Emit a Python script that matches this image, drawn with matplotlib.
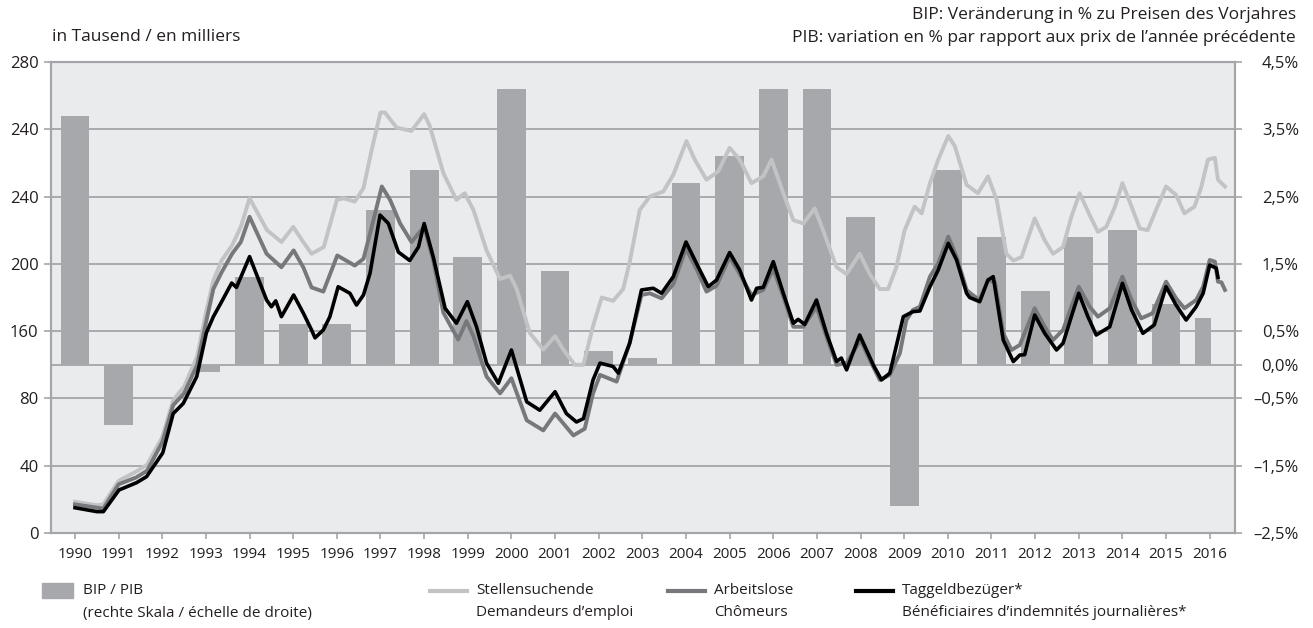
import matplotlib
matplotlib.use("Agg")
import matplotlib.pyplot as plt
from matplotlib.lines import Line2D
from matplotlib.patches import Rectangle

plt.rcParams['font.family'] = ['Open Sans', 'DejaVu Sans']

# BIP / PIB, Veränderung in % (rechte Skala)
bip_years = list(range(1990, 2017))
bip_vals = [3.7, -0.9, 0.0, -0.1, 1.3, 0.6, 0.6, 2.3, 2.9, 1.6, 4.1, 1.4, 0.2, 0.1,
            2.7, 3.1, 4.1, 4.1, 2.2, -2.1, 2.9, 1.9, 1.1, 1.9, 2.0, 0.9, 0.7]

# Stellensuchende / Demandeurs d'emploi (in Tausend)
s_years = [1990.00, 1990.50, 1990.65, 1991.00, 1991.40, 1991.65, 1992.00, 1992.25, 1992.50, 1992.80,
           1993.00, 1993.17, 1993.36, 1993.60, 1993.80, 1994.00, 1994.40, 1994.73, 1995.00, 1995.23,
           1995.42, 1995.70, 1996.00, 1996.15, 1996.41, 1996.61, 1996.80, 1997.00, 1997.10, 1997.37,
           1997.71, 1998.00, 1998.13, 1998.44, 1998.74, 1998.93, 1999.13, 1999.43, 1999.74, 1999.97,
           2000.12, 2000.42, 2000.73, 2001.00, 2001.19, 2001.45, 2001.65, 2001.87, 2002.07, 2002.33,
           2002.56, 2002.71, 2002.94, 2003.17, 2003.48, 2003.71, 2004.01, 2004.20, 2004.47, 2004.74,
           2005.00, 2005.23, 2005.50, 2005.77, 2005.96, 2006.23, 2006.46, 2006.69, 2006.95, 2007.14,
           2007.45, 2007.68, 2007.98, 2008.21, 2008.44, 2008.63, 2008.82, 2009.01, 2009.24, 2009.40,
           2009.59, 2009.78, 2010.01, 2010.16, 2010.43, 2010.69, 2010.92, 2011.12, 2011.34, 2011.50,
           2011.69, 2011.99, 2012.22, 2012.41, 2012.64, 2012.83, 2013.02, 2013.25, 2013.44, 2013.63,
           2013.83, 2014.00, 2014.21, 2014.40, 2014.58, 2014.77, 2015.00, 2015.23, 2015.42, 2015.65,
           2015.80, 2015.96, 2016.12, 2016.19, 2016.35]
s_vals = [18.6, 16.5, 17.0, 31.0, 36.5, 40.5, 57.0, 79.0, 87.0, 105.0,
          131.0, 150.0, 162.0, 171.0, 182.0, 199.0, 180.0, 173.0, 182.0, 173.0,
          166.0, 170.0, 198.0, 199.0, 197.0, 205.0, 228.0, 250.0, 250.0, 241.0,
          239.0, 249.0, 242.0, 214.0, 198.0, 202.0, 192.0, 168.0, 151.0, 153.0,
          145.0, 119.0, 109.0, 117.0, 109.0, 100.0, 100.0, 123.0, 140.0, 138.0,
          145.0, 161.0, 192.0, 200.0, 203.0, 213.0, 233.0, 222.0, 210.0, 215.0,
          229.0, 222.0, 208.0, 212.0, 222.0, 202.0, 186.0, 184.0, 193.0, 180.0,
          158.0, 154.0, 166.0, 154.0, 145.0, 145.0, 158.0, 180.0, 194.0, 190.0,
          208.0, 222.0, 236.0, 230.0, 207.0, 202.0, 212.0, 198.0, 166.0, 162.0,
          164.0, 187.0, 174.0, 166.0, 170.0, 188.0, 202.0, 189.0, 179.0, 182.0,
          194.0, 208.0, 194.0, 181.0, 180.0, 192.0, 206.0, 201.0, 190.0, 194.0,
          205.0, 222.0, 223.0, 210.0, 206.0]

# Arbeitslose / Chômeurs
a_years = [1990.00, 1990.65, 1991.00, 1991.40, 1991.65, 1992.00, 1992.25, 1992.50, 1992.80, 1993.00,
           1993.17, 1993.36, 1993.60, 1993.80, 1994.00, 1994.39, 1994.73, 1995.01, 1995.23, 1995.42,
           1995.69, 1996.01, 1996.41, 1996.61, 1996.80, 1997.03, 1997.22, 1997.45, 1997.71, 1998.00,
           1998.21, 1998.44, 1998.78, 1998.97, 1999.13, 1999.43, 1999.74, 2000.00, 2000.35, 2000.73,
           2001.00, 2001.42, 2001.68, 2001.87, 2002.03, 2002.41, 2002.71, 2002.98, 2003.17, 2003.44,
           2003.71, 2004.00, 2004.24, 2004.47, 2004.70, 2005.00, 2005.23, 2005.50, 2005.77, 2006.00,
           2006.23, 2006.46, 2006.69, 2006.99, 2007.22, 2007.45, 2007.68, 2008.00, 2008.21, 2008.44,
           2008.67, 2008.90, 2009.05, 2009.20, 2009.36, 2009.59, 2009.78, 2010.01, 2010.20, 2010.43,
           2010.54, 2010.73, 2010.92, 2011.08, 2011.27, 2011.46, 2011.65, 2011.99, 2012.22, 2012.41,
           2012.64, 2012.83, 2013.00, 2013.25, 2013.44, 2013.71, 2014.00, 2014.21, 2014.43, 2014.69,
           2015.00, 2015.23, 2015.42, 2015.69, 2015.85, 2016.00, 2016.12, 2016.19, 2016.27, 2016.35]
a_vals = [17.0, 14.5, 29.0, 33.0, 37.0, 54.0, 76.0, 83.0, 100.0, 125.0,
          145.0, 155.0, 166.0, 173.0, 188.0, 166.0, 158.0, 168.0, 158.0, 146.0,
          143.5, 165.0, 159.0, 163.0, 182.0, 206.0, 198.0, 184.0, 173.0, 182.0,
          162.0, 131.0, 115.0, 126.0, 117.0, 93.0, 83.0, 92.0, 67.0, 61.0,
          71.0, 58.0, 62.0, 83.0, 94.0, 90.0, 113.0, 141.5, 142.5, 139.5,
          148.0, 169.0, 157.0, 143.5, 147.0, 164.0, 154.0, 141.5, 144.5, 157.0,
          140.5, 122.6, 122.6, 134.5, 116.7, 100.0, 101.0, 114.7, 103.0, 91.0,
          94.0, 106.8, 126.6, 132.6, 134.5, 152.4, 160.3, 176.2, 164.3, 144.5,
          142.0, 138.5, 150.4, 149.0, 118.7, 108.8, 111.8, 133.6, 122.6, 114.7,
          120.7, 134.5, 146.4, 134.5, 128.6, 133.6, 152.4, 138.5, 127.6, 130.6,
          149.4, 139.5, 133.6, 138.5, 146.4, 162.3, 161.3, 149.4, 149.0, 144.5]

# Taggeldbezüger / Bénéficiaires d'indemnités journalières
t_years = [1990.00, 1990.50, 1990.65, 1991.01, 1991.41, 1991.64, 1992.01, 1992.25, 1992.48, 1992.79,
           1993.01, 1993.17, 1993.36, 1993.59, 1993.70, 1994.00, 1994.39, 1994.50, 1994.60, 1994.73,
           1995.01, 1995.23, 1995.42, 1995.50, 1995.69, 1995.84, 1996.03, 1996.30, 1996.45, 1996.61,
           1996.76, 1996.99, 1997.18, 1997.41, 1997.67, 1997.87, 1998.00, 1998.21, 1998.48, 1998.74,
           1998.99, 1999.20, 1999.43, 1999.70, 2000.00, 2000.35, 2000.65, 2001.00, 2001.26, 2001.49,
           2001.65, 2001.87, 2002.03, 2002.33, 2002.45, 2002.71, 2002.98, 2003.25, 2003.44, 2003.71,
           2004.00, 2004.24, 2004.51, 2004.70, 2005.00, 2005.23, 2005.50, 2005.62, 2005.77, 2006.00,
           2006.23, 2006.46, 2006.57, 2006.72, 2006.99, 2007.22, 2007.45, 2007.56, 2007.68, 2007.98,
           2008.29, 2008.48, 2008.67, 2008.98, 2009.20, 2009.36, 2009.59, 2009.78, 2010.01, 2010.20,
           2010.43, 2010.50, 2010.73, 2010.92, 2011.04, 2011.27, 2011.50, 2011.65, 2011.76, 2011.99,
           2012.22, 2012.49, 2012.64, 2012.83, 2013.00, 2013.21, 2013.40, 2013.71, 2014.00, 2014.21,
           2014.47, 2014.73, 2015.00, 2015.23, 2015.46, 2015.69, 2015.85, 2016.00, 2016.15, 2016.19]
t_vals = [15.0, 12.7, 12.7, 25.6, 29.9, 33.5, 47.6, 71.0, 77.0, 93.0,
          119.0, 128.6, 137.5, 148.6, 146.0, 164.3, 138.5, 134.5, 138.0, 128.6,
          141.5, 130.8, 120.7, 116.0, 120.7, 128.6, 146.4, 142.5, 135.5, 141.5,
          154.4, 189.0, 184.0, 167.0, 162.0, 170.0, 184.0, 164.0, 133.6, 124.7,
          137.5, 122.6, 101.0, 89.0, 108.8, 78.0, 73.0, 84.0, 71.0, 66.0,
          68.0, 91.0, 101.0, 99.0, 95.0, 112.8, 144.5, 145.5, 142.5, 152.4,
          173.0, 160.3, 146.4, 150.4, 166.7, 156.4, 138.5, 145.5, 146.0, 161.3,
          142.5, 124.7, 127.0, 124.0, 138.5, 118.7, 102.0, 104.0, 97.0, 117.7,
          100.0, 91.0, 95.0, 128.6, 131.6, 132.0, 146.4, 156.4, 172.2, 162.3,
          142.5, 140.0, 137.5, 150.4, 152.4, 114.7, 101.9, 105.8, 106.0, 129.6,
          118.7, 108.8, 112.8, 128.6, 142.5, 128.6, 117.7, 122.6, 148.4, 132.6,
          118.7, 123.7, 146.4, 135.5, 126.6, 134.5, 142.5, 159.3, 157.4, 152.0]

left_ticks = [0, 40, 80, 120, 160, 200, 240, 280]
left_labels = ['0', '40', '80', '160', '200', '240', '240', '280']
right_ticks = [-2.5, -1.5, -0.5, 0.0, 0.5, 1.5, 2.5, 3.5, 4.5]
right_labels = ['\u20132,5%', '\u20131,5%', '\u20130,5%', '0,0%', '0,5%', '1,5%', '2,5%', '3,5%', '4,5%']

# Farben
c_bg = '#EAEBEC'
c_grid = '#A4A5A8'
c_bar = '#A7A8AB'
c_s = '#C2C3C5'
c_a = '#77787B'
c_t = '#000000'
c_txt = '#231F20'

W, H = 1313, 628
fig = plt.figure(figsize=(W / 100, H / 100), dpi=100)
ax = fig.add_axes([51 / W, 1 - 533 / H, (1235 - 51) / W, (533 - 62) / H])
ax.set_facecolor(c_bg)

# Balken BIP (rechte Skala)
lefts = [y - 0.33 for y in bip_years]
widths = [0.66] * (len(bip_years) - 1) + [0.35]
ax.bar(lefts, bip_vals, width=widths, align='edge', color=c_bar, zorder=2)
ax.set_ylim(-2.5, 4.5)
ax.set_yticks(right_ticks)
ax.set_yticklabels(right_labels)
ax.grid(axis='y', color=c_grid, lw=1.3, zorder=1)
ax.set_axisbelow(True)

ax.set_xlim(1989.45, 2016.58)
ax.set_xticks(bip_years)
ax.set_xticklabels([str(y) for y in bip_years])
ax.tick_params(axis='x', direction='out', length=4, width=1.2, color=c_grid,
               labelsize=11, labelcolor=c_txt, pad=6)

# Linien (linke Skala)
ax2 = ax.twinx()
ax2.plot(s_years, s_vals, color=c_s, lw=2.8, solid_joinstyle='round')
ax2.plot(a_years, a_vals, color=c_a, lw=2.8, solid_joinstyle='round')
ax2.plot(t_years, t_vals, color=c_t, lw=2.6, solid_joinstyle='round')
ax2.set_ylim(0, 280)
ax2.set_yticks(left_ticks)
ax2.set_yticklabels(left_labels)
ax2.yaxis.tick_left()
ax2.tick_params(axis='y', direction='out', length=5, width=1.2, color=c_grid,
                labelsize=12, labelcolor=c_txt, pad=4)

# rechte Skala erst nach twinx nach rechts setzen
ax.yaxis.tick_right()
ax.tick_params(axis='y', direction='out', length=5, width=1.2, color=c_grid,
               labelsize=12, labelcolor=c_txt, pad=41)
for t in ax.yaxis.get_major_ticks():
    t.label2.set_horizontalalignment('right')

for a in (ax, ax2):
    for sp in a.spines.values():
        sp.set_color(c_grid)
        sp.set_linewidth(1.5)

# Beschriftungen oben
fig.text(52 / W, 1 - 37 / H, 'in Tausend / en milliers', fontsize=12.5, color=c_txt, va='center')
fig.text(1296 / W, 1 - 15 / H, 'BIP: Veränderung in % zu Preisen des Vorjahres',
         fontsize=12.5, color=c_txt, va='center', ha='right')
fig.text(1296 / W, 1 - 38 / H, 'PIB: variation en % par rapport aux prix de l\u2019année précédente',
         fontsize=12.5, color=c_txt, va='center', ha='right')

# Legende
fig.add_artist(Rectangle((42 / W, 1 - 598 / H), 31 / W, 15 / H, color=c_bar, transform=fig.transFigure))
fig.text(83 / W, 1 - 591 / H, 'BIP / PIB', fontsize=11, color=c_txt, va='center')
fig.text(83 / W, 1 - 613 / H, '(rechte Skala / échelle de droite)', fontsize=11, color=c_txt, va='center')

legend_items = [
    (430, c_s, 'Stellensuchende', 'Demandeurs d\u2019emploi'),
    (668, c_a, 'Arbeitslose', 'Chômeurs'),
    (856, c_t, 'Taggeldbezüger*', 'Bénéficiaires d\u2019indemnités journalières*'),
]
for x0, col, l1, l2 in legend_items:
    fig.add_artist(Line2D([x0 / W, (x0 + 37) / W], [1 - 591 / H, 1 - 591 / H], color=col, lw=3,
                          transform=fig.transFigure))
    fig.text((x0 + 46) / W, 1 - 591 / H, l1, fontsize=11, color=c_txt, va='center')
    fig.text((x0 + 46) / W, 1 - 613 / H, l2, fontsize=11, color=c_txt, va='center')

fig.savefig('out.png', dpi=100, facecolor='white')
